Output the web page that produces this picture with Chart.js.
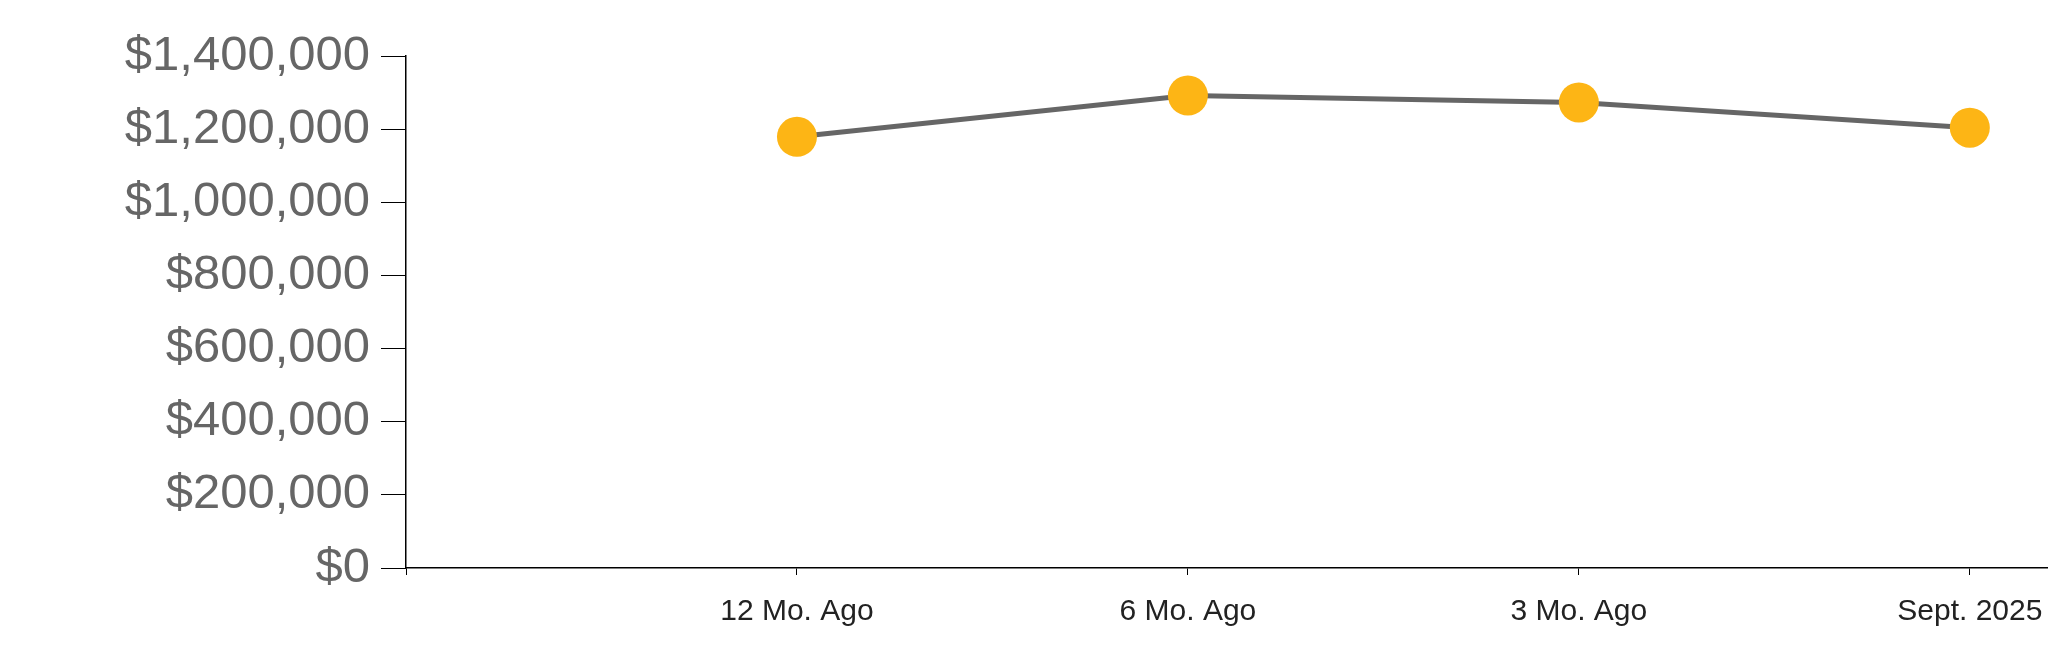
<!DOCTYPE html>
<html>
<head>
<meta charset="utf-8">
<script src="https://cdn.jsdelivr.net/npm/chart.js@4.4.1/dist/chart.umd.min.js"></script>
<style>
  html, body { margin: 0; padding: 0; background: #fff; }
  #wrap { width: 2048px; height: 663px; position: relative; }
</style>
</head>
<body>
<div id="wrap"><canvas id="grafico-precos"></canvas></div>
<script>
const categorias = ['12 Mo. Ago', '6 Mo. Ago', '3 Mo. Ago', 'Sept. 2025'];
const precos = [1179000, 1292000, 1273000, 1204000];
const ticksY = [0, 200000, 400000, 600000, 800000, 1000000, 1200000, 1400000];

const fonte = '"Liberation Sans", Arial, sans-serif';

// x linear: 1..4 = categorias, 0 = eixo y
const pontos = precos.map((v, i) => ({ x: i + 1, y: v }));

const ctx = document.getElementById('grafico-precos').getContext('2d');
const chart = new Chart(ctx, {
    type: 'line',
    data: {
        datasets: [{
            data: pontos,
            borderColor: '#666666',
            borderWidth: 5,
            pointRadius: 20,
            pointHoverRadius: 20,
            pointBackgroundColor: '#FDB515',
            pointBorderWidth: 0,
            tension: 0,
            clip: false,
        }],
    },
    options: {
        responsive: true,
        maintainAspectRatio: false,
        animation: false,
        layout: { autoPadding: false, padding: { left: 0, right: 0, top: 56, bottom: 14 } },
        plugins: { legend: { display: false }, tooltip: { enabled: false } },
        scales: {
            x: {
                type: 'linear',
                min: 0,
                max: 4.2,
                afterBuildTicks: (axis) => {
                    axis.ticks = [0, 1, 2, 3, 4].map(v => ({ value: v }));
                },
                afterFit: (axis) => { axis.paddingLeft = 0; axis.paddingRight = 0; },
                grid: { drawOnChartArea: false, color: '#000', tickLength: 7 },
                border: { color: '#000', width: 1.5 },
                ticks: {
                    color: '#222',
                    font: { family: fonte, size: 30 },
                    padding: 19,
                    maxRotation: 0,
                    autoSkip: false,
                    callback: (v) => categorias[v - 1] || '',
                },
            },
            y: {
                min: 0,
                max: 1400000,
                afterBuildTicks: (axis) => {
                    axis.ticks = ticksY.map(v => ({ value: v }));
                },
                grid: { drawOnChartArea: false, color: '#000', tickLength: 25 },
                border: { color: '#000', width: 1.5 },
                ticks: {
                    color: '#666',
                    font: { family: fonte, size: 49 },
                    padding: 11,
                    callback: (v) => '$' + v.toLocaleString('en-US'),
                },
                afterFit: (axis) => { axis.width = 406; },
            },
        },
    },
});
</script>
</body>
</html>
